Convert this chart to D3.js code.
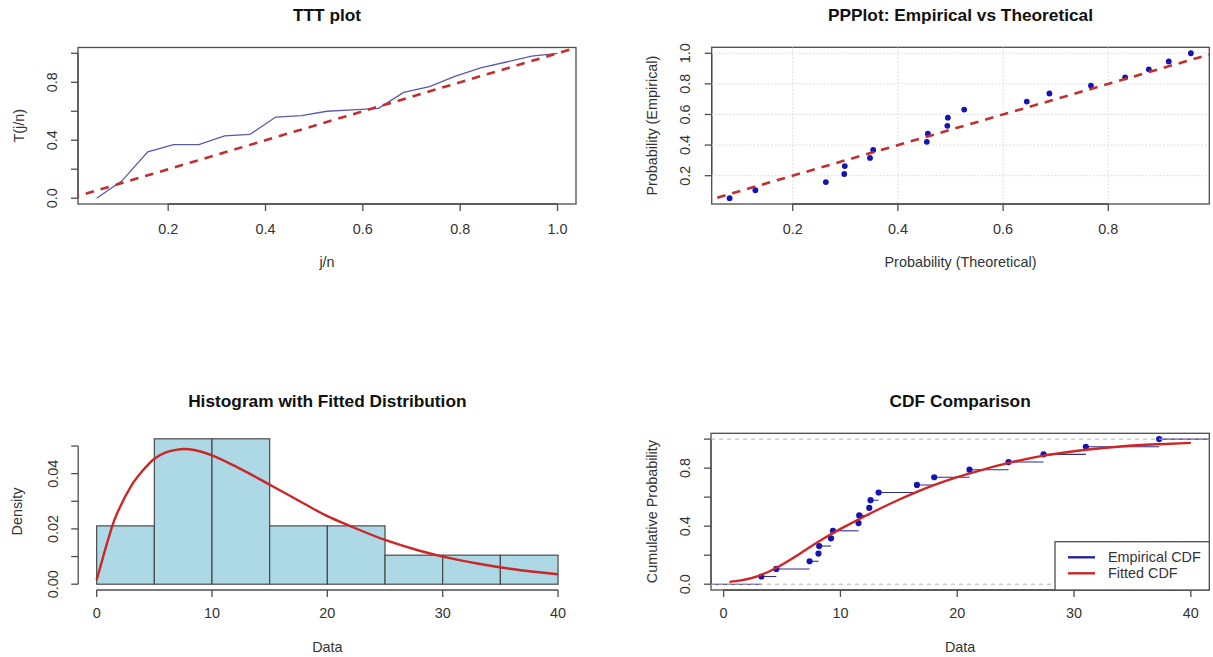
<!DOCTYPE html>
<html>
<head>
<meta charset="utf-8">
<script src="https://cdn.jsdelivr.net/npm/d3@7"></script>
<style>
  body { margin: 0; background: #ffffff; }
  svg { display: block; }
</style>
</head>
<body>
<svg id="fig" width="1213" height="657"></svg>
<script>
// ---------- data ----------
// Sample (sorted observations)
const sampleData = [3.23, 4.51, 7.36, 8.12, 8.18, 9.19, 9.36, 11.55, 11.61, 12.47,
                    12.58, 13.27, 16.55, 18.03, 21.05, 24.39, 27.39, 31.01, 37.29];
// Empirical probabilities j/n (n = 19)
const empiricalProb = [0.053, 0.105, 0.158, 0.211, 0.263, 0.316, 0.368, 0.421, 0.474, 0.526,
                       0.579, 0.632, 0.684, 0.737, 0.789, 0.842, 0.895, 0.947, 1.000];

// TTT plot
const tttJn = [0.053, 0.105, 0.158, 0.211, 0.263, 0.316, 0.368, 0.421, 0.474, 0.526,
               0.579, 0.632, 0.684, 0.737, 0.789, 0.842, 0.895, 0.947, 1.000];
const tttT  = [0.00, 0.12, 0.32, 0.37, 0.37, 0.43, 0.44, 0.56, 0.57, 0.60,
               0.61, 0.62, 0.73, 0.77, 0.84, 0.90, 0.94, 0.98, 1.00];
const tttXTicks = [0.2, 0.4, 0.6, 0.8, 1.0];
const tttXLabels = ["0.2", "0.4", "0.6", "0.8", "1.0"];
const tttYTicks = [0.0, 0.2, 0.4, 0.6, 0.8, 1.0];
const tttYLabels = ["0.0", "", "0.4", "", "0.8", ""];

// P-P plot
const ppTheoretical = [0.080, 0.129, 0.263, 0.298, 0.299, 0.347, 0.353, 0.455, 0.457, 0.494,
                       0.495, 0.526, 0.645, 0.688, 0.767, 0.832, 0.877, 0.915, 0.957];
const ppXTicks = [0.2, 0.4, 0.6, 0.8];
const ppXLabels = ["0.2", "0.4", "0.6", "0.8"];
const ppYTicks = [0.2, 0.4, 0.6, 0.8, 1.0];
const ppYLabels = ["0.2", "0.4", "0.6", "0.8", "1.0"];

// Histogram
const binEdges = [0, 5, 10, 15, 20, 25, 30, 35, 40];
const binDensity = [0.0211, 0.0526, 0.0526, 0.0211, 0.0211, 0.0105, 0.0105, 0.0105];
const densityX = [0, 0.5, 1, 1.5, 2, 3, 4, 5, 6, 7, 7.5, 8, 9, 10, 12, 14, 16, 18,
                  20, 22, 25, 28, 30, 33, 36, 40];
const densityY = [0.0015, 0.0090, 0.0162, 0.0228, 0.0277, 0.0356, 0.0411, 0.0454, 0.0477,
                  0.0487, 0.0489, 0.0488, 0.0480, 0.0466, 0.0427, 0.0383, 0.0337, 0.0291,
                  0.0246, 0.0210, 0.0160, 0.0121, 0.0100, 0.0075, 0.0055, 0.0036];
const histXTicks = [0, 10, 20, 30, 40];
const histXLabels = ["0", "10", "20", "30", "40"];
const histYTicks = [0, 0.01, 0.02, 0.03, 0.04, 0.05];
const histYLabels = ["0.00", "", "0.02", "", "0.04", ""];

// CDF comparison
const fittedCdfX = [0.5, 1.5, 3, 4.5, 6, 7.5, 9, 10.5, 12, 13.5, 15, 16.5, 18, 20, 22,
                    24.4, 27.4, 31, 34.2, 37.3, 40];
const fittedCdfY = [0.016, 0.026, 0.058, 0.112, 0.183, 0.262, 0.336, 0.402, 0.465, 0.525,
                    0.582, 0.635, 0.683, 0.738, 0.785, 0.836, 0.886, 0.927, 0.951, 0.965, 0.974];
const cdfXTicks = [0, 10, 20, 30, 40];
const cdfXLabels = ["0", "10", "20", "30", "40"];
const cdfYTicks = [0, 0.2, 0.4, 0.6, 0.8, 1.0];
const cdfYLabels = ["0.0", "", "0.4", "", "0.8", ""];
const legendNames = ["Empirical CDF", "Fitted CDF"];

// ---------- styling ----------
const FONT = '"Liberation Sans", Arial, Helvetica, sans-serif';
const AXIS_COL = "#4d4d4d";
const TEXT_COL = "#333333";
const RED = "#cc2626";
const DASH_RED = "#c22f2f";
const BLUE_PT = "#1414b4";

const svg = d3.select("#fig");

// Generic panel: box, axes, labels
function panel(cfg) {
  const g = svg.append("g");
  const x = d3.scaleLinear().domain(cfg.xDomain).range([cfg.left, cfg.right]);
  const y = d3.scaleLinear().domain(cfg.yDomain).range([cfg.bottom, cfg.top]);
  const clipId = "clip" + cfg.id;
  svg.append("clipPath").attr("id", clipId).append("rect")
    .attr("x", cfg.left).attr("y", cfg.top)
    .attr("width", cfg.right - cfg.left).attr("height", cfg.bottom - cfg.top);

  const axisY = cfg.xAxisAt !== undefined ? cfg.xAxisAt : cfg.bottom;
  const axisX = cfg.yAxisAt !== undefined ? cfg.yAxisAt : cfg.left;
  const tickLen = 7;

  // x axis
  const xa = g.append("g");
  xa.append("line")
    .attr("x1", x(cfg.xTicks[0])).attr("x2", x(cfg.xTicks[cfg.xTicks.length - 1]))
    .attr("y1", axisY).attr("y2", axisY)
    .attr("stroke", AXIS_COL).attr("stroke-width", 1.3);
  xa.selectAll("line.tick").data(cfg.xTicks).join("line").attr("class", "tick")
    .attr("x1", d => x(d)).attr("x2", d => x(d))
    .attr("y1", axisY).attr("y2", axisY + tickLen)
    .attr("stroke", AXIS_COL).attr("stroke-width", 1.3);
  xa.selectAll("text").data(cfg.xTicks).join("text")
    .attr("x", d => x(d)).attr("y", cfg.xTickBase)
    .attr("text-anchor", "middle")
    .attr("font-family", FONT).attr("font-size", 14.4).attr("fill", TEXT_COL)
    .text((d, i) => cfg.xLabels[i]);

  // y axis
  const ya = g.append("g");
  ya.append("line")
    .attr("x1", axisX).attr("x2", axisX)
    .attr("y1", y(cfg.yTicks[0])).attr("y2", y(cfg.yTicks[cfg.yTicks.length - 1]))
    .attr("stroke", AXIS_COL).attr("stroke-width", 1.3);
  ya.selectAll("line.tick").data(cfg.yTicks).join("line").attr("class", "tick")
    .attr("x1", axisX - tickLen).attr("x2", axisX)
    .attr("y1", d => y(d)).attr("y2", d => y(d))
    .attr("stroke", AXIS_COL).attr("stroke-width", 1.3);
  ya.selectAll("text").data(cfg.yTicks).join("text")
    .attr("transform", d => `translate(${cfg.yTickBase},${y(d)}) rotate(-90)`)
    .attr("text-anchor", "middle")
    .attr("font-family", FONT).attr("font-size", 14.4).attr("fill", TEXT_COL)
    .text((d, i) => cfg.yLabels[i]);

  // box
  if (cfg.box) {
    g.append("rect")
      .attr("x", cfg.left).attr("y", cfg.top)
      .attr("width", cfg.right - cfg.left).attr("height", cfg.bottom - cfg.top)
      .attr("fill", "none").attr("stroke", AXIS_COL).attr("stroke-width", 1.3);
  }

  // title and axis titles
  const cx = (cfg.left + cfg.right) / 2;
  g.append("text").attr("x", cx).attr("y", cfg.titleBase)
    .attr("text-anchor", "middle").attr("font-family", FONT)
    .attr("font-size", 17.3).attr("font-weight", "bold").attr("fill", "#111111")
    .text(cfg.title);
  g.append("text").attr("x", cx).attr("y", cfg.xlabBase)
    .attr("text-anchor", "middle").attr("font-family", FONT)
    .attr("font-size", 14.4).attr("fill", TEXT_COL).text(cfg.xlab);
  g.append("text")
    .attr("transform", `translate(${cfg.ylabBase},${(cfg.top + cfg.bottom) / 2}) rotate(-90)`)
    .attr("text-anchor", "middle").attr("font-family", FONT)
    .attr("font-size", 14.4).attr("fill", TEXT_COL).text(cfg.ylab);

  const plot = svg.append("g").attr("clip-path", `url(#${clipId})`);
  return { x, y, g, plot };
}

// ---------- TTT plot ----------
{
  const p = panel({
    id: "ttt", left: 78, right: 576, top: 47.5, bottom: 204,
    xDomain: [0.0147, 1.038], yDomain: [-0.04, 1.04],
    xTicks: tttXTicks, xLabels: tttXLabels, yTicks: tttYTicks, yLabels: tttYLabels,
    xTickBase: 234, yTickBase: 57, titleBase: 21, xlabBase: 267, ylabBase: 24,
    title: "TTT plot", xlab: "j/n", ylab: "T(j/n)", box: true
  });
  const line = d3.line().x((d, i) => p.x(tttJn[i])).y(d => p.y(d));
  p.plot.append("path").datum(tttT).attr("d", line)
    .attr("fill", "none").attr("stroke", "#5a5aa8").attr("stroke-width", 1.3);
  // reference diagonal
  p.plot.append("line")
    .attr("x1", p.x(0)).attr("y1", p.y(0)).attr("x2", p.x(1.1)).attr("y2", p.y(1.1))
    .attr("stroke", DASH_RED).attr("stroke-width", 2.6).attr("stroke-dasharray", "8.5,7");
}

// ---------- P-P plot ----------
{
  const p = panel({
    id: "pp", left: 711.7, right: 1209.3, top: 47.3, bottom: 204,
    xDomain: [0.046, 0.992], yDomain: [0.015, 1.039],
    xTicks: ppXTicks, xLabels: ppXLabels, yTicks: ppYTicks, yLabels: ppYLabels,
    xTickBase: 234, yTickBase: 690, titleBase: 21, xlabBase: 267, ylabBase: 657,
    title: "PPPlot: Empirical vs Theoretical", xlab: "Probability (Theoretical)",
    ylab: "Probability (Empirical)", box: true
  });
  // grid
  p.plot.selectAll("line.gx").data(ppXTicks).join("line").attr("class", "gx")
    .attr("x1", d => p.x(d)).attr("x2", d => p.x(d))
    .attr("y1", 47.3).attr("y2", 204)
    .attr("stroke", "#d6d6d6").attr("stroke-width", 1).attr("stroke-dasharray", "1.5,2");
  p.plot.selectAll("line.gy").data(ppYTicks).join("line").attr("class", "gy")
    .attr("x1", 711.7).attr("x2", 1209.3)
    .attr("y1", d => p.y(d)).attr("y2", d => p.y(d))
    .attr("stroke", "#d6d6d6").attr("stroke-width", 1).attr("stroke-dasharray", "1.5,2");
  p.plot.selectAll("circle").data(ppTheoretical).join("circle")
    .attr("cx", d => p.x(d)).attr("cy", (d, i) => p.y(empiricalProb[i]))
    .attr("r", 2.9).attr("fill", BLUE_PT);
  p.plot.append("line")
    .attr("x1", p.x(0)).attr("y1", p.y(0)).attr("x2", p.x(1.1)).attr("y2", p.y(1.1))
    .attr("stroke", DASH_RED).attr("stroke-width", 2.6).attr("stroke-dasharray", "8.5,7");
}

// ---------- Histogram ----------
{
  const p = panel({
    id: "hist", left: 78.2, right: 576.5, top: 433, bottom: 590,
    xDomain: [-1.6, 41.6], yDomain: [-0.0021, 0.0547],
    xTicks: histXTicks, xLabels: histXLabels, yTicks: histYTicks, yLabels: histYLabels,
    xTickBase: 618, yTickBase: 58, titleBase: 407, xlabBase: 652, ylabBase: 22,
    title: "Histogram with Fitted Distribution", xlab: "Data", ylab: "Density", box: false,
    xAxisAt: 590, yAxisAt: 78.2
  });
  const bars = svg.append("g");
  bars.selectAll("rect").data(binDensity).join("rect")
    .attr("x", (d, i) => p.x(binEdges[i]))
    .attr("width", (d, i) => p.x(binEdges[i + 1]) - p.x(binEdges[i]))
    .attr("y", d => p.y(d))
    .attr("height", d => p.y(0) - p.y(d))
    .attr("fill", "#add8e6").attr("stroke", "#4a4a4a").attr("stroke-width", 1.2);
  const line = d3.line().curve(d3.curveMonotoneX)
    .x((d, i) => p.x(densityX[i])).y(d => p.y(d));
  svg.append("path").datum(densityY).attr("d", line)
    .attr("fill", "none").attr("stroke", RED).attr("stroke-width", 2.4);
}

// ---------- CDF comparison ----------
{
  const p = panel({
    id: "cdf", left: 711, right: 1209.3, top: 433.3, bottom: 590,
    xDomain: [-1.08, 41.58], yDomain: [-0.04, 1.04],
    xTicks: cdfXTicks, xLabels: cdfXLabels, yTicks: cdfYTicks, yLabels: cdfYLabels,
    xTickBase: 618, yTickBase: 690, titleBase: 407, xlabBase: 652, ylabBase: 657,
    title: "CDF Comparison", xlab: "Data", ylab: "Cumulative Probability", box: true
  });
  const [x0, x1] = p.x.domain();
  // empirical step function (horizontal pieces)
  const steps = [{ a: x0, b: sampleData[0], v: 0 }];
  sampleData.forEach((d, i) => {
    steps.push({ a: d, b: i + 1 < sampleData.length ? sampleData[i + 1] : x1, v: empiricalProb[i] });
  });
  p.plot.selectAll("line.step").data(steps).join("line").attr("class", "step")
    .attr("x1", d => p.x(d.a)).attr("x2", d => p.x(d.b))
    .attr("y1", d => p.y(d.v)).attr("y2", d => p.y(d.v))
    .attr("stroke", "#2e2e8c").attr("stroke-width", 1.1);
  p.plot.selectAll("circle").data(sampleData).join("circle")
    .attr("cx", d => p.x(d)).attr("cy", (d, i) => p.y(empiricalProb[i]))
    .attr("r", 3.1).attr("fill", BLUE_PT);
  // 0 and 1 reference lines
  p.plot.selectAll("line.ref").data([0, 1]).join("line").attr("class", "ref")
    .attr("x1", p.x(x0)).attr("x2", p.x(x1))
    .attr("y1", d => p.y(d)).attr("y2", d => p.y(d))
    .attr("stroke", "#b3b3b3").attr("stroke-width", 1).attr("stroke-dasharray", "4,4");
  // fitted CDF
  const line = d3.line().curve(d3.curveMonotoneX)
    .x((d, i) => p.x(fittedCdfX[i])).y(d => p.y(d));
  p.plot.append("path").datum(fittedCdfY).attr("d", line)
    .attr("fill", "none").attr("stroke", RED).attr("stroke-width", 2.4);

  // legend (bottom right)
  const lg = svg.append("g");
  lg.append("rect").attr("x", 1055).attr("y", 541.7)
    .attr("width", 1209.3 - 1055).attr("height", 590 - 541.7)
    .attr("fill", "#ffffff").attr("stroke", AXIS_COL).attr("stroke-width", 1.3);
  const legCols = ["#2424a0", RED];
  legendNames.forEach((name, i) => {
    const yy = 557.3 + i * 16;
    lg.append("line").attr("x1", 1068).attr("x2", 1095).attr("y1", yy).attr("y2", yy)
      .attr("stroke", legCols[i]).attr("stroke-width", 2.4);
    lg.append("text").attr("x", 1108).attr("y", yy + 5)
      .attr("font-family", FONT).attr("font-size", 14.4).attr("fill", TEXT_COL).text(name);
  });
}
</script>
</body>
</html>
